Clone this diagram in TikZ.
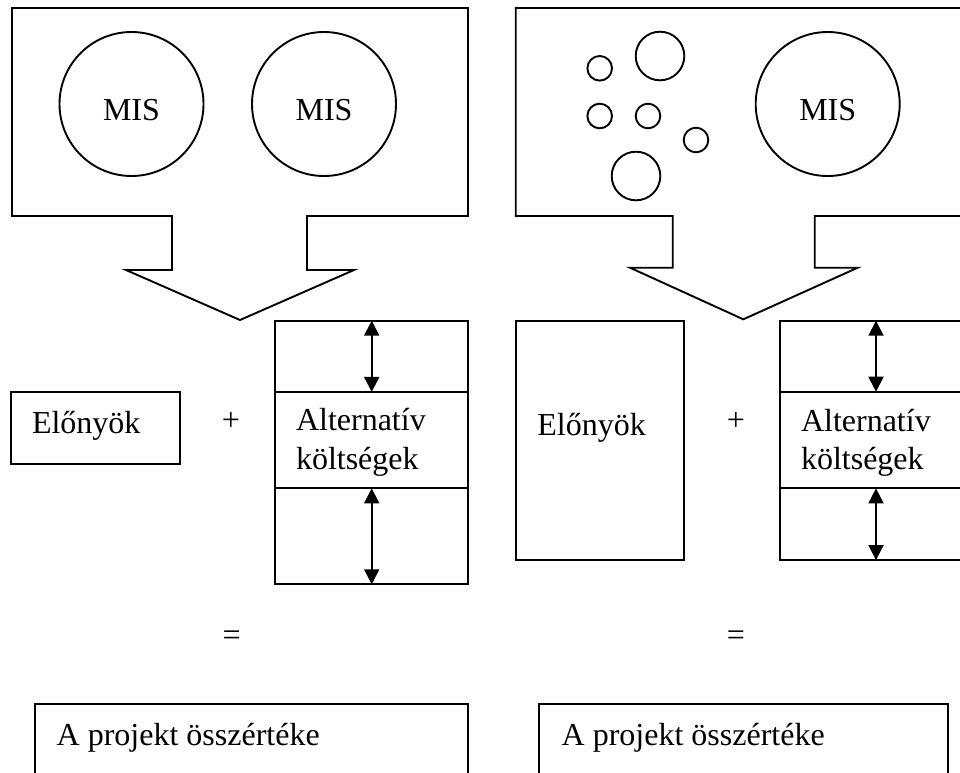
\documentclass[tikz,border=0pt]{standalone}
\usepackage{fontspec}
\setmainfont{Liberation Serif}
\usetikzlibrary{arrows.meta}
\begin{document}
\begin{tikzpicture}[x=1pt,y=-1pt,line width=1.9pt,
  every node/.style={font=\fontsize{32}{38}\selectfont,inner sep=0pt,outer sep=0pt},
  txt/.style={anchor=base west},
  box/.style={draw,rectangle,line width=1.9pt},
  circ/.style={draw,circle,line width=1.9pt},
  dbl/.style={{Triangle[length=15pt,width=15pt]}-{Triangle[length=15pt,width=15pt]},line width=1.9pt},
  outline/.style={draw,line width=1.9pt,line join=miter}]
\useasboundingbox (0,0) rectangle (960,772);
\clip (0,0) rectangle (960,772);

% ---------- left panel ----------
\draw[outline] (12,8) -- (468,8) -- (468,216) -- (307,216) -- (307,270) -- (354,270)
  -- (240,320) -- (126,270) -- (172,270) -- (172,216) -- (12,216) -- cycle;
\node[circ,minimum size=144pt] (misL1) at (131.5,104) {};
\node[circ,minimum size=144pt] (misL2) at (324,104) {};
\node[anchor=base] (tmisL1) at (131.5,120) {MIS};
\node[anchor=base] (tmisL2) at (324,120) {MIS};

\node[box,minimum width=169pt,minimum height=72.6pt] (eloL) at (95.8,428) {};
\node[txt] (teloL) at (32,433.3) {Előnyök};
\node (plusL) at (231,421) {+};

\node[box,minimum width=192.7pt,minimum height=71.3pt] (altLa) at (371.7,356.3) {};
\node[box,minimum width=192.7pt,minimum height=96.3pt] (altLb) at (371.7,440.2) {};
\node[box,minimum width=192.7pt,minimum height=96pt] (altLc) at (371.7,536.3) {};
\draw[dbl] (altLa.north) -- (altLa.south);
\draw[dbl] (altLc.north) -- (altLc.south);
\node[txt] (taltL1) at (296,430.7) {Alternatív};
\node[txt] (taltL2) at (296,469.3) {költségek};

\node (eqL) at (231.7,638) {=};
\node[box,minimum width=433pt,minimum height=96pt] (totL) at (251.5,752) {};
\node[txt] (ttotL) at (56.7,745) {A projekt összértéke};

% ---------- right panel ----------
\draw[outline] (515.7,8) -- (975,8) -- (975,216) -- (814.7,216) -- (814.7,267.7) -- (857.7,267.7)
  -- (743.3,319.3) -- (630,267.7) -- (672.7,267.7) -- (672.7,216) -- (515.7,216) -- cycle;
\node[circ,minimum size=24.6pt] (s1) at (599.7,68.3) {};
\node[circ,minimum size=48.6pt] (s2) at (660,56) {};
\node[circ,minimum size=24.6pt] (s3) at (599.7,116) {};
\node[circ,minimum size=24.6pt] (s4) at (648,116) {};
\node[circ,minimum size=24.6pt] (s5) at (696,140) {};
\node[circ,minimum size=48.6pt] (s6) at (636,176) {};
\node[circ,minimum size=144pt] (misR) at (827.7,104) {};
\node[anchor=base] (tmisR) at (827.7,120) {MIS};

\node[box,minimum width=168.3pt,minimum height=239.3pt] (eloR) at (599.8,440.3) {};
\node[txt] (teloR) at (537.3,435) {Előnyök};
\node (plusR) at (736,421) {+};

\node[box,minimum width=192pt,minimum height=71pt] (altRa) at (876,356.2) {};
\node[box,minimum width=192pt,minimum height=96.6pt] (altRb) at (876,440) {};
\node[box,minimum width=192pt,minimum height=71.7pt] (altRc) at (876,524.2) {};
\draw[dbl] (altRa.north) -- (altRa.south);
\draw[dbl] (altRc.north) -- (altRc.south);
\node[txt] (taltR1) at (801,431.7) {Alternatív};
\node[txt] (taltR2) at (801,469.3) {költségek};

\node (eqR) at (736,638) {=};
\node[box,minimum width=408.7pt,minimum height=96pt] (totR) at (743.7,752) {};
\node[txt] (ttotR) at (561.7,745) {A projekt összértéke};
\end{tikzpicture}
\end{document}
